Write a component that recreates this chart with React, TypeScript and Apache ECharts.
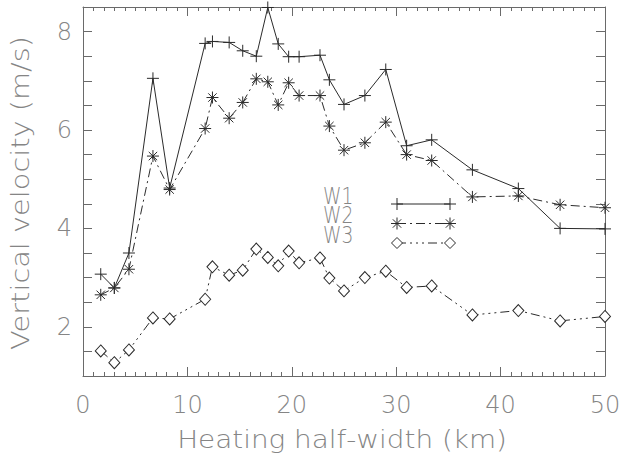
import React, { useEffect, useRef } from "react";
import * as echarts from "echarts";

// Heating half-width (km) for each run
const halfWidths = [1.7, 3.0, 4.4, 6.7, 8.3, 11.7, 12.4, 14.0, 15.3, 16.6, 17.7, 18.7, 19.7, 20.7, 22.7, 23.6, 25.0, 27.0, 29.0, 31.0, 33.4, 37.3, 41.7, 45.7, 50.0];
// Vertical velocity (m/s)
const w1 = [3.07, 2.79, 3.5, 7.05, 4.82, 7.76, 7.8, 7.78, 7.61, 7.5, 8.49, 7.75, 7.49, 7.49, 7.52, 7.02, 6.52, 6.7, 7.23, 5.68, 5.8, 5.19, 4.81, 4.0, 3.99];
const w2 = [2.65, 2.79, 3.17, 5.47, 4.79, 6.03, 6.66, 6.24, 6.56, 7.04, 6.98, 6.51, 6.96, 6.7, 6.7, 6.08, 5.59, 5.74, 6.16, 5.5, 5.38, 4.64, 4.66, 4.48, 4.42];
const w3 = [1.51, 1.27, 1.53, 2.18, 2.16, 2.56, 3.22, 3.05, 3.15, 3.58, 3.41, 3.24, 3.54, 3.3, 3.4, 2.99, 2.73, 3.0, 3.13, 2.8, 2.83, 2.24, 2.33, 2.12, 2.21];

const seriesNames = ["W1", "W2", "W3"];
const yTickLabels = [2, 4, 6, 8];

const INK = "#2b2b2b";
const AXIS = "#6a6a6a";
const TEXT = "#858585";
const FONT = "'DejaVu Sans', Verdana, sans-serif";
const WEIGHT = 200;

const PLUS = "path://M0,6H12M6,0V12";
const STAR = "path://M0,6H12M6,0V12M1.8,1.8L10.2,10.2M1.8,10.2L10.2,1.8";

const DASH_DOT = [9, 4, 2, 4];
const DASH_DOT3 = [9, 4, 2, 4, 2, 4, 2, 4];

const pairs = (ys: number[]) => halfWidths.map((x, i) => [x, ys[i]]);

// Legend glyphs drawn with graphic primitives
function plusGlyph(cx: number, cy: number, r: number) {
  return [
    { type: "line", shape: { x1: cx - r, y1: cy, x2: cx + r, y2: cy }, style: { stroke: INK, lineWidth: 1 } },
    { type: "line", shape: { x1: cx, y1: cy - r, x2: cx, y2: cy + r }, style: { stroke: INK, lineWidth: 1 } },
  ];
}
function starGlyph(cx: number, cy: number, r: number) {
  const d = r * 0.7;
  return [
    ...plusGlyph(cx, cy, r),
    { type: "line", shape: { x1: cx - d, y1: cy - d, x2: cx + d, y2: cy + d }, style: { stroke: INK, lineWidth: 1 } },
    { type: "line", shape: { x1: cx - d, y1: cy + d, x2: cx + d, y2: cy - d }, style: { stroke: INK, lineWidth: 1 } },
  ];
}
function diamondGlyph(cx: number, cy: number, r: number) {
  return [
    {
      type: "polygon",
      shape: { points: [[cx - r, cy], [cx, cy - r], [cx + r, cy], [cx, cy + r]] },
      style: { fill: "#fff", stroke: INK, lineWidth: 1 },
    },
  ];
}

function legendRow(name: string, y: number, dash: any, glyph: (cx: number, cy: number, r: number) => any[], r: number) {
  const x1 = 397;
  const x2 = 450;
  return [
    {
      // compact label: small font stretched to the legend's letter height
      type: "text",
      x: 323,
      y: y - 8,
      scaleX: 1.1,
      scaleY: 1.3,
      style: {
        text: name,
        fill: TEXT,
        font: `${WEIGHT} 17px ${FONT}`,
        textAlign: "left",
        textVerticalAlign: "middle",
      },
    },
    {
      type: "line",
      shape: { x1, y1: y, x2, y2: y },
      style: { stroke: INK, lineWidth: 1, lineDash: dash },
    },
    ...glyph(x1, y, r),
    ...glyph(x2, y, r),
  ];
}

export default function App() {
  const ref = useRef<HTMLDivElement>(null);

  useEffect(() => {
    if (!ref.current) return;
    const chart = echarts.init(ref.current, undefined, { renderer: "svg" });

    const grid = { left: 83, top: 7, right: 27, bottom: 81, containLabel: false };

    const xBase = {
      type: "value",
      min: 0,
      max: 50,
      interval: 10,
      axisLine: { show: true, onZero: false, lineStyle: { color: AXIS, width: 1 } },
      axisTick: { show: true, inside: true, length: 9, lineStyle: { color: AXIS } },
      minorTick: { show: true, splitNumber: 10, length: 4, lineStyle: { color: AXIS } },
      splitLine: { show: false },
      minorSplitLine: { show: false },
    };
    const yBase = {
      type: "value",
      min: 1,
      max: 8.5,
      interval: 0.5,
      axisLine: { show: true, onZero: false, lineStyle: { color: AXIS, width: 1 } },
      axisTick: { show: true, inside: true, length: 9, lineStyle: { color: AXIS } },
      splitLine: { show: false },
    };

    const symbolStyle = { color: "transparent", borderColor: INK, borderWidth: 1 };

    chart.setOption({
      animation: false,
      backgroundColor: "#ffffff",
      grid,
      xAxis: [
        {
          ...xBase,
          position: "bottom",
          axisLabel: { show: true, color: TEXT, fontSize: 24, fontWeight: WEIGHT, fontFamily: FONT, margin: 17 },
        },
        { ...xBase, position: "top", axisLabel: { show: false } },
      ],
      yAxis: [
        {
          ...yBase,
          position: "left",
          axisLabel: {
            show: true,
            interval: 0,
            color: TEXT,
            fontSize: 24,
            fontWeight: WEIGHT,
            fontFamily: FONT,
            margin: 11,
            formatter: (v: number) => (yTickLabels.includes(Math.round(v * 100) / 100) ? String(v) : ""),
          },
        },
        { ...yBase, position: "right", axisLabel: { show: false } },
      ],
      series: [
        {
          name: seriesNames[0],
          type: "line",
          data: pairs(w1),
          symbol: PLUS,
          symbolSize: 12,
          showAllSymbol: true,
          itemStyle: symbolStyle,
          lineStyle: { color: INK, width: 1, type: "solid" },
        },
        {
          name: seriesNames[1],
          type: "line",
          data: pairs(w2),
          symbol: STAR,
          symbolSize: 12,
          showAllSymbol: true,
          itemStyle: symbolStyle,
          lineStyle: { color: INK, width: 1, type: DASH_DOT },
        },
        {
          name: seriesNames[2],
          type: "line",
          data: pairs(w3),
          symbol: "diamond",
          symbolSize: [11, 12],
          showAllSymbol: true,
          itemStyle: { color: "#ffffff", borderColor: INK, borderWidth: 1 },
          lineStyle: { color: INK, width: 1, type: DASH_DOT3 },
          z: 3,
        },
      ],
      graphic: [
        {
          type: "text",
          x: 342,
          y: 440,
          scaleX: 1.16,
          style: {
            text: "Heating half-width (km)",
            fill: TEXT,
            font: `${WEIGHT} 24px ${FONT}`,
            textAlign: "center",
            textVerticalAlign: "middle",
          },
        },
        {
          type: "text",
          x: 20,
          y: 193,
          rotation: Math.PI / 2,
          scaleX: 1.2,
          style: {
            text: "Vertical velocity (m/s)",
            fill: TEXT,
            font: `${WEIGHT} 24px ${FONT}`,
            textAlign: "center",
            textVerticalAlign: "middle",
          },
        },
        ...legendRow(seriesNames[0], 204, null, plusGlyph, 6),
        ...legendRow(seriesNames[1], 223.5, DASH_DOT, starGlyph, 6),
        ...legendRow(seriesNames[2], 243, DASH_DOT3, diamondGlyph, 5.5),
      ],
    });

    return () => chart.dispose();
  }, []);

  return (
    <div
      ref={ref}
      style={{ position: "fixed", left: 0, top: 0, width: 632, height: 457, background: "#fff" }}
    />
  );
}
